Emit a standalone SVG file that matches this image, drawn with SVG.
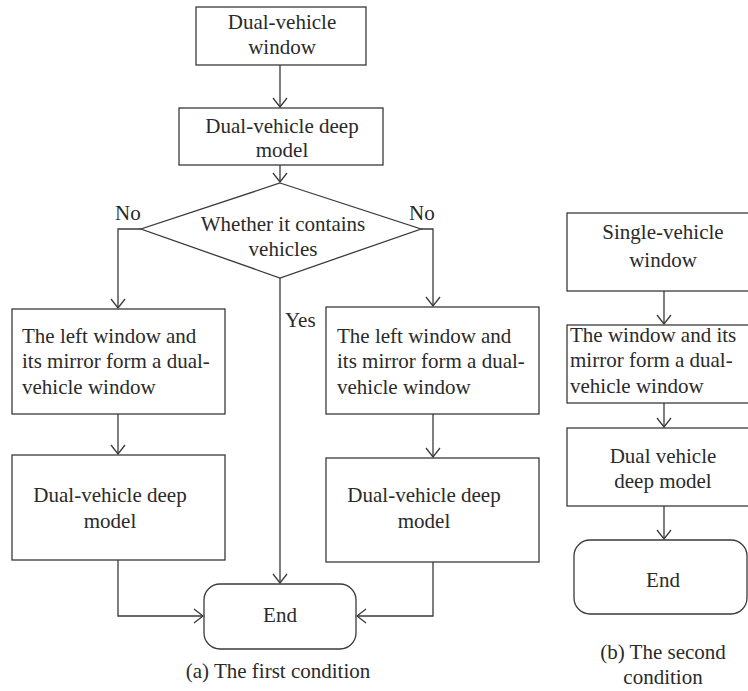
<svg xmlns="http://www.w3.org/2000/svg" width="748" height="691" viewBox="0 0 748 691">
<style>
.box{fill:#fff;stroke:#3a3a3a;stroke-width:1.3}
.ln{fill:none;stroke:#3a3a3a;stroke-width:1.3}
.t{font-family:'Liberation Serif','DejaVu Serif','Noto Serif',serif;font-size:21px;fill:#2a2a2a}
.c{text-anchor:middle}
</style>
<defs>
<marker id="ahr" viewBox="0 0 12 16" refX="11" refY="8" markerWidth="12" markerHeight="16" markerUnits="userSpaceOnUse" orient="auto">
<path d="M2,1 L11,8 L2,15" fill="none" stroke="#3a3a3a" stroke-width="1.3"/>
</marker>
</defs>
<rect width="748" height="691" fill="#fff"/>
<g id="connectors">
<path class="ln" d="M280,65 V107" marker-end="url(#ahr)"/>
<path class="ln" d="M280,165 V182" marker-end="url(#ahr)"/>
<path class="ln" d="M141,229 H118 V308" marker-end="url(#ahr)"/>
<path class="ln" d="M421,229 H433 V306" marker-end="url(#ahr)"/>
<path class="ln" d="M280,278 V583" marker-end="url(#ahr)"/>
<path class="ln" d="M118,414 V454" marker-end="url(#ahr)"/>
<path class="ln" d="M433,414 V457" marker-end="url(#ahr)"/>
<path class="ln" d="M118,560 V616 H203" marker-end="url(#ahr)"/>
<path class="ln" d="M433,562 V616 H357" marker-end="url(#ahr)"/>
<path class="ln" d="M664,291 V324" marker-end="url(#ahr)"/>
<path class="ln" d="M664,403 V427" marker-end="url(#ahr)"/>
<path class="ln" d="M664,506 V539" marker-end="url(#ahr)"/>
</g>
<g class="t" font-family="Liberation Serif, DejaVu Serif, serif">
<g id="n1"><rect class="box" x="196" y="7" width="170" height="58"/><text class="c" x="282" y="29">Dual-vehicle</text><text class="c" x="282" y="54">window</text></g>
<g id="n2"><rect class="box" x="179" y="108" width="204" height="57"/><text class="c" x="282" y="133">Dual-vehicle deep</text><text class="c" x="282" y="157">model</text></g>
<g id="n3"><polygon class="box" points="280,183 421,229 280,278 141,229"/><text class="c" x="283" y="231">Whether it contains</text><text class="c" x="283" y="256">vehicles</text></g>
<g id="lbl"><text x="115" y="220">No</text><text x="409" y="220">No</text><text x="285" y="327">Yes</text></g>
<g id="n4"><rect class="box" x="12" y="309" width="213" height="105"/><text x="22" y="343">The left window and</text><text x="22" y="368">its mirror form a dual-</text><text x="22" y="394">vehicle window</text></g>
<g id="n5"><rect class="box" x="12" y="455" width="213" height="105"/><text class="c" x="110" y="502">Dual-vehicle deep</text><text class="c" x="110" y="528">model</text></g>
<g id="n6"><rect class="box" x="326" y="307" width="213" height="107"/><text x="337" y="343">The left window and</text><text x="337" y="368">its mirror form a dual-</text><text x="337" y="394">vehicle window</text></g>
<g id="n7"><rect class="box" x="326" y="458" width="213" height="104"/><text class="c" x="424" y="502">Dual-vehicle deep</text><text class="c" x="424" y="528">model</text></g>
<g id="n8"><rect class="box" x="204" y="584" width="152" height="65" rx="16"/><text class="c" x="280" y="622">End</text></g>
<text class="c" x="278" y="678">(a) The first condition</text>
<g id="m1"><rect class="box" x="567" y="213" width="192" height="78"/><text class="c" x="663" y="239">Single-vehicle</text><text class="c" x="663" y="267">window</text></g>
<g id="m2"><rect class="box" x="567" y="325" width="192" height="78"/><text x="570" y="342">The window and its</text><text x="570" y="367">mirror form a dual-</text><text x="570" y="393">vehicle window</text></g>
<g id="m3"><rect class="box" x="567" y="428" width="192" height="78"/><text class="c" x="663" y="463">Dual vehicle</text><text class="c" x="663" y="488">deep model</text></g>
<g id="m4"><rect class="box" x="574" y="540" width="173" height="74" rx="16"/><text class="c" x="663" y="587">End</text></g>
<text class="c" x="663" y="659">(b) The second</text>
<text class="c" x="663" y="684">condition</text>
</g>
</svg>
